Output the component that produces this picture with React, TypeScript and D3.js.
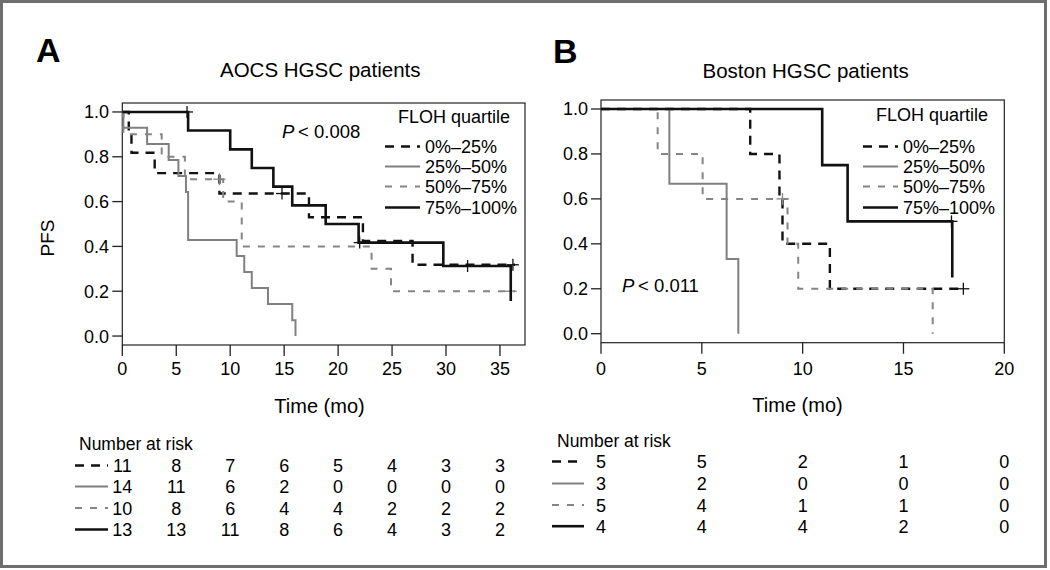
import React from 'react';
import * as d3 from 'd3';

const FONT = '"Liberation Sans", Arial, Helvetica, sans-serif';

// ---------- legend / groups ----------
const groupLabels = ['0%\u201325%', '25%\u201350%', '50%\u201375%', '75%\u2013100%'];
const groupColors = ['#111111', '#808080', '#858585', '#111111'];
const groupDash = ['9,7', '', '7,8', ''];
const groupWidth = [2.4, 2.0, 2.0, 2.6];

// ---------- Panel A (AOCS) ----------
const aTimes0 = [0, 0.6, 0.85, 3.0, 9.0, 17.3, 22.3, 26.9];
const aSurv0 = [1, 0.909, 0.818, 0.727, 0.636, 0.53, 0.424, 0.318];
const aCens0 = [14.8, 36.2];
const aTimes1 = [0, 0.1, 2.3, 4.3, 5.2, 5.9, 6.1, 10.6, 11.3, 12.0, 13.5, 15.75, 16.05];
const aSurv1 = [1, 0.929, 0.857, 0.786, 0.714, 0.643, 0.429, 0.357, 0.286, 0.214, 0.143, 0.071, 0];
const aCens1: number[] = [];
const aTimes2 = [0, 0.1, 3.65, 5.8, 9.35, 11.07, 23.1, 24.9];
const aSurv2 = [1, 0.9, 0.8, 0.7, 0.6, 0.4, 0.3, 0.2];
const aCens2 = [9.0, 36.0];
const aTimes3 = [0, 6.1, 10.0, 12.0, 14.0, 15.75, 18.85, 21.9, 29.75, 36.0];
const aSurv3 = [1, 0.917, 0.833, 0.75, 0.667, 0.583, 0.5, 0.417, 0.3125, 0.156];
const aCens3 = [6.0, 22.0, 32.0];
const aEnds = [36.4, 16.05, 36.4, 36.0];

const aRiskTimes = [0, 5, 10, 15, 20, 25, 30, 35];
const aRisk0 = [11, 8, 7, 6, 5, 4, 3, 3];
const aRisk1 = [14, 11, 6, 2, 0, 0, 0, 0];
const aRisk2 = [10, 8, 6, 4, 4, 2, 2, 2];
const aRisk3 = [13, 13, 11, 8, 6, 4, 3, 2];

// ---------- Panel B (Boston) ----------
const bTimes0 = [0, 7.4, 8.85, 9.0, 11.35];
const bSurv0 = [1, 0.8, 0.6, 0.4, 0.2];
const bCens0 = [17.97];
const bTimes1 = [0, 3.39, 6.23, 6.81];
const bSurv1 = [1, 0.667, 0.333, 0];
const bCens1: number[] = [];
const bTimes2 = [0, 2.81, 5.04, 9.25, 9.78, 16.45];
const bSurv2 = [1, 0.8, 0.6, 0.4, 0.2, 0];
const bCens2 = [9.0];
const bTimes3 = [0, 10.97, 12.23, 17.42];
const bSurv3 = [1, 0.75, 0.5, 0.25];
const bCens3 = [17.38];
const bEnds = [17.97, 6.81, 16.45, 17.42];

const bRiskTimes = [0, 5, 10, 15, 20];
const bRisk0 = [5, 5, 2, 1, 0];
const bRisk1 = [3, 2, 0, 0, 0];
const bRisk2 = [5, 4, 1, 1, 0];
const bRisk3 = [4, 4, 4, 2, 0];

const yTickVals = [0, 0.2, 0.4, 0.6, 0.8, 1.0];
const aXTicks = [0, 5, 10, 15, 20, 25, 30, 35];
const bXTicks = [0, 5, 10, 15, 20];

type Curve = { times: number[]; surv: number[]; cens: number[]; end: number };

const aCurves: Curve[] = [
  { times: aTimes0, surv: aSurv0, cens: aCens0, end: aEnds[0] },
  { times: aTimes1, surv: aSurv1, cens: aCens1, end: aEnds[1] },
  { times: aTimes2, surv: aSurv2, cens: aCens2, end: aEnds[2] },
  { times: aTimes3, surv: aSurv3, cens: aCens3, end: aEnds[3] },
];
const bCurves: Curve[] = [
  { times: bTimes0, surv: bSurv0, cens: bCens0, end: bEnds[0] },
  { times: bTimes1, surv: bSurv1, cens: bCens1, end: bEnds[1] },
  { times: bTimes2, surv: bSurv2, cens: bCens2, end: bEnds[2] },
  { times: bTimes3, surv: bSurv3, cens: bCens3, end: bEnds[3] },
];

function survAt(c: Curve, t: number) {
  let s = c.surv[0];
  for (let i = 0; i < c.times.length; i++) if (c.times[i] <= t) s = c.surv[i];
  return s;
}

type PanelCfg = {
  letter: string;
  letterX: number;
  letterY: number;
  title: string;
  titleX: number;
  titleY: number;
  left: number;
  right: number;
  top: number;
  bottom: number;
  xMax: number;
  xTicks: number[];
  curves: Curve[];
  yLabelX: number;
  pText: string;
  pX: number;
  pY: number;
  legX: number;
  legY: number[];
  timeX: number;
  timeY: number;
  riskTimes: number[];
  risks: number[][];
  riskHeadX: number;
  riskHeadY: number;
  riskRowY: number[];
  sampleX1: number;
  sampleX2: number;
  showPFS: boolean;
};

const lineGen = d3.line<[number, number]>().curve(d3.curveStepAfter);

function Panel({ cfg }: { cfg: PanelCfg }) {
  const x = d3.scaleLinear().domain([0, cfg.xMax]).range([cfg.left, cfg.right]);
  const y = d3.scaleLinear().domain([-0.04, 1.04]).range([cfg.bottom, cfg.top]);
  const fmt = d3.format('.1f');
  lineGen.x((d) => x(d[0])).y((d) => y(d[1]));
  return (
    <g fontFamily={FONT} fill="#000">
      <text x={cfg.letterX} y={cfg.letterY} fontSize={34} fontWeight="bold">{cfg.letter}</text>
      <text x={cfg.titleX} y={cfg.titleY} fontSize={20.5}>{cfg.title}</text>
      {/* box */}
      <rect x={cfg.left} y={cfg.top} width={cfg.right - cfg.left} height={cfg.bottom - cfg.top}
        fill="none" stroke="#222" strokeWidth={1.2} />
      {/* y axis */}
      {yTickVals.map((v) => (
        <g key={'y' + v}>
          <line x1={cfg.left - 10} x2={cfg.left} y1={y(v)} y2={y(v)} stroke="#222" strokeWidth={1.3} />
          <text x={cfg.yLabelX} y={y(v)} dy="0.36em" textAnchor="end" fontSize={18}>{fmt(v)}</text>
        </g>
      ))}
      {/* x axis */}
      {cfg.xTicks.map((v) => (
        <g key={'x' + v}>
          <line x1={x(v)} x2={x(v)} y1={cfg.bottom} y2={cfg.bottom + 11} stroke="#222" strokeWidth={1.3} />
          <text x={x(v)} y={375} textAnchor="middle" fontSize={18}>{v}</text>
        </g>
      ))}
      <text x={cfg.timeX} y={cfg.timeY} textAnchor="middle" fontSize={20}>Time (mo)</text>
      {cfg.showPFS && (
        <text transform="translate(54,238) rotate(-90)" textAnchor="middle" fontSize={19}>PFS</text>
      )}
      {/* curves */}
      {cfg.curves.map((c, gi) => {
        const pts: [number, number][] = c.times.map((t, i) => [t, c.surv[i]] as [number, number]);
        pts.push([c.end, c.surv[c.surv.length - 1]]);
        return (
          <g key={'c' + gi}>
            <path d={lineGen(pts) || ''} fill="none" stroke={groupColors[gi]} strokeWidth={groupWidth[gi]}
              strokeDasharray={groupDash[gi] || undefined} />
            {c.cens.map((t, k) => {
              const cx = x(t);
              const cy = y(survAt(c, t));
              return (
                <g key={k} stroke={groupColors[gi]} strokeWidth={1.3}>
                  <line x1={cx - 6} x2={cx + 6} y1={cy} y2={cy} />
                  <line x1={cx} x2={cx} y1={cy - 6} y2={cy + 6} />
                </g>
              );
            })}
          </g>
        );
      })}
      {/* p value */}
      <text x={cfg.pX} y={cfg.pY} fontSize={18.5}>
        <tspan fontStyle="italic">P</tspan>
        <tspan>{'\u2009< ' + cfg.pText}</tspan>
      </text>
      {/* legend */}
      <text x={cfg.legX - 27} y={cfg.legY[0]} fontSize={18}>FLOH quartile</text>
      {groupLabels.map((lab, gi) => (
        <g key={'l' + gi}>
          <line x1={cfg.legX - 40} x2={cfg.legX - 5} y1={cfg.legY[gi + 1] - 6.5} y2={cfg.legY[gi + 1] - 6.5}
            stroke={groupColors[gi]} strokeWidth={groupWidth[gi]} strokeDasharray={groupDash[gi] || undefined} />
          <text x={cfg.legX} y={cfg.legY[gi + 1]} fontSize={18}>{lab}</text>
        </g>
      ))}
      {/* risk table */}
      <text x={cfg.riskHeadX} y={cfg.riskHeadY} fontSize={17.5}>Number at risk</text>
      {cfg.risks.map((row, gi) => (
        <g key={'r' + gi}>
          <line x1={cfg.sampleX1} x2={cfg.sampleX2} y1={cfg.riskRowY[gi] - 6.5} y2={cfg.riskRowY[gi] - 6.5}
            stroke={groupColors[gi]} strokeWidth={groupWidth[gi]} strokeDasharray={groupDash[gi] || undefined} />
          {row.map((n, k) => (
            <text key={k} x={x(cfg.riskTimes[k])} y={cfg.riskRowY[gi]} textAnchor="middle" fontSize={18}>{n}</text>
          ))}
        </g>
      ))}
    </g>
  );
}

const panelA: PanelCfg = {
  letter: 'A', letterX: 36, letterY: 62,
  title: 'AOCS HGSC patients', titleX: 220, titleY: 77,
  left: 122.3, right: 525, top: 103, bottom: 345, xMax: 37.32, xTicks: aXTicks, curves: aCurves,
  yLabelX: 109,
  pText: '0.008', pX: 282, pY: 138,
  legX: 425, legY: [123, 153, 173, 193, 214],
  timeX: 319.5, timeY: 413,
  riskTimes: aRiskTimes, risks: [aRisk0, aRisk1, aRisk2, aRisk3],
  riskHeadX: 79, riskHeadY: 449.5, riskRowY: [472, 493, 514.5, 536],
  sampleX1: 75, sampleX2: 108, showPFS: true,
};

const panelB: PanelCfg = {
  letter: 'B', letterX: 553, letterY: 62.5,
  title: 'Boston HGSC patients', titleX: 702.5, titleY: 78.4,
  left: 601, right: 1004.3, top: 100, bottom: 342.7, xMax: 20, xTicks: bXTicks, curves: bCurves,
  yLabelX: 588,
  pText: '0.011', pX: 622, pY: 292,
  legX: 903, legY: [121, 153, 173, 193, 214],
  timeX: 797.5, timeY: 412,
  riskTimes: bRiskTimes, risks: [bRisk0, bRisk1, bRisk2, bRisk3],
  riskHeadX: 557, riskHeadY: 447, riskRowY: [468, 490, 511.5, 532.7],
  sampleX1: 552, sampleX2: 584, showPFS: false,
};

export default function App() {
  return (
    <svg width={1050} height={570} style={{ position: 'absolute', left: 0, top: 0, background: '#fff' }}>
      <rect x={0} y={0} width={1050} height={570} fill="#fff" />
      <rect x={1.5} y={1.5} width={1044} height={565} fill="none" stroke="#6e6e6e" strokeWidth={3} />
      <Panel cfg={panelA} />
      <Panel cfg={panelB} />
    </svg>
  );
}
